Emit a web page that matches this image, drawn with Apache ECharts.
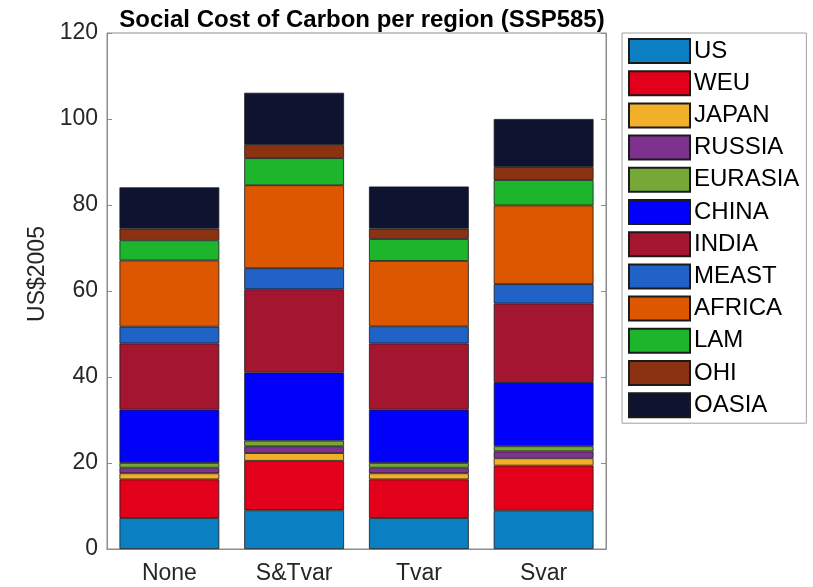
<!DOCTYPE html>
<html>
<head>
<meta charset="utf-8">
<title>Social Cost of Carbon per region</title>
<script src="https://cdn.jsdelivr.net/npm/echarts@6/dist/echarts.min.js"></script>
<style>
  html, body { margin: 0; padding: 0; background: #fff; }
  #chart { width: 813px; height: 587px; }
</style>
</head>
<body>
<div id="chart"></div>
<script>
// scenarios on the x axis
const categories = ['None', 'S&Tvar', 'Tvar', 'Svar']
const yTicks = [0, 20, 40, 60, 80, 100, 120]

// SCC contribution of each region
const US = [7.2, 9.0, 7.2, 8.9]
const WEU = [9.0, 11.5, 9.0, 10.5]
const JAPAN = [1.4, 1.8, 1.4, 1.7]
const RUSSIA = [1.3, 1.6, 1.3, 1.6]
const EURASIA = [1.1, 1.3, 1.1, 1.2]
const CHINA = [12.4, 15.8, 12.4, 14.9]
const INDIA = [15.4, 19.4, 15.4, 18.3]
const MEAST = [3.9, 4.9, 4.0, 4.5]
const AFRICA = [15.4, 19.3, 15.2, 18.3]
const LAM = [4.7, 6.3, 5.1, 5.9]
const OHI = [2.7, 3.1, 2.4, 3.0]
const OASIA = [9.6, 12.1, 9.8, 11.2]

const regions = [
  ['US', US, '#0a7fc2'],
  ['WEU', WEU, '#e2001a'],
  ['JAPAN', JAPAN, '#f2b02a'],
  ['RUSSIA', RUSSIA, '#7e318f'],
  ['EURASIA', EURASIA, '#76a838'],
  ['CHINA', CHINA, '#0000fb'],
  ['INDIA', INDIA, '#a4152f'],
  ['MEAST', MEAST, '#2062c6'],
  ['AFRICA', AFRICA, '#dc5700'],
  ['LAM', LAM, '#1cb52b'],
  ['OHI', OHI, '#8b3212'],
  ['OASIA', OASIA, '#0e1430']
]

const textColor = '#262626'
const axisColor = '#8c8c8c'
const font = 'Liberation Sans, Arial, sans-serif'

const myChart = echarts.init(document.getElementById('chart'))

const option = {
  animation: false,
  title: {
    text: 'Social Cost of Carbon per region (SSP585)',
    left: 357,
    top: 3,
    textAlign: 'center',
    textStyle: { fontSize: 24, fontWeight: 'bold', color: '#000', fontFamily: font }
  },
  legend: {
    orient: 'vertical',
    left: 622,
    top: 33,
    padding: [5, 7, 5, 6],
    itemWidth: 61,
    itemHeight: 24,
    itemGap: 6.2,
    borderColor: '#a0a0a0',
    borderWidth: 1,
    icon: 'rect',
    textStyle: { fontSize: 24, color: '#000', fontFamily: font, padding: [0, 0, 0, -1] },
    data: regions.map(r => r[0])
  },
  grid: {
    left: 107,
    right: 207,
    top: 33,
    bottom: 38,
    show: true,
    borderColor: axisColor,
    borderWidth: 1
  },
  xAxis: [
    {
      type: 'category',
      data: categories,
      axisLine: { lineStyle: { color: axisColor } },
      axisTick: { inside: true, alignWithLabel: true, length: 5, lineStyle: { color: axisColor } },
      axisLabel: { fontSize: 23, color: textColor, margin: 13, fontFamily: font }
    },
    {
      type: 'category',
      position: 'top',
      data: categories,
      axisLine: { lineStyle: { color: axisColor } },
      axisTick: { inside: true, alignWithLabel: true, length: 5, lineStyle: { color: axisColor } },
      axisLabel: { show: false }
    }
  ],
  yAxis: [
    {
      type: 'value',
      min: yTicks[0],
      max: yTicks[yTicks.length - 1],
      interval: 20,
      name: 'US$2005',
      nameLocation: 'middle',
      nameGap: 53,
      nameTextStyle: { fontSize: 23, color: textColor, fontFamily: font, padding: [0, 0, 0, 34] },
      axisLine: { show: true, lineStyle: { color: axisColor } },
      axisTick: { show: true, inside: true, length: 5, lineStyle: { color: axisColor } },
      axisLabel: { fontSize: 23, color: textColor, margin: 9, fontFamily: font },
      splitLine: { show: false }
    },
    {
      type: 'value',
      position: 'right',
      min: yTicks[0],
      max: yTicks[yTicks.length - 1],
      interval: 20,
      axisLine: { show: true, lineStyle: { color: axisColor } },
      axisTick: { show: true, inside: true, length: 5, lineStyle: { color: axisColor } },
      axisLabel: { show: false },
      splitLine: { show: false }
    }
  ],
  series: regions.map(([name, values, color]) => ({
    name: name,
    type: 'bar',
    stack: 'Total',
    barWidth: '80%',
    data: values,
    itemStyle: { color: color, borderColor: '#1a1a1a', borderWidth: 0.8 }
  }))
}

myChart.setOption(option)
</script>
</body>
</html>
